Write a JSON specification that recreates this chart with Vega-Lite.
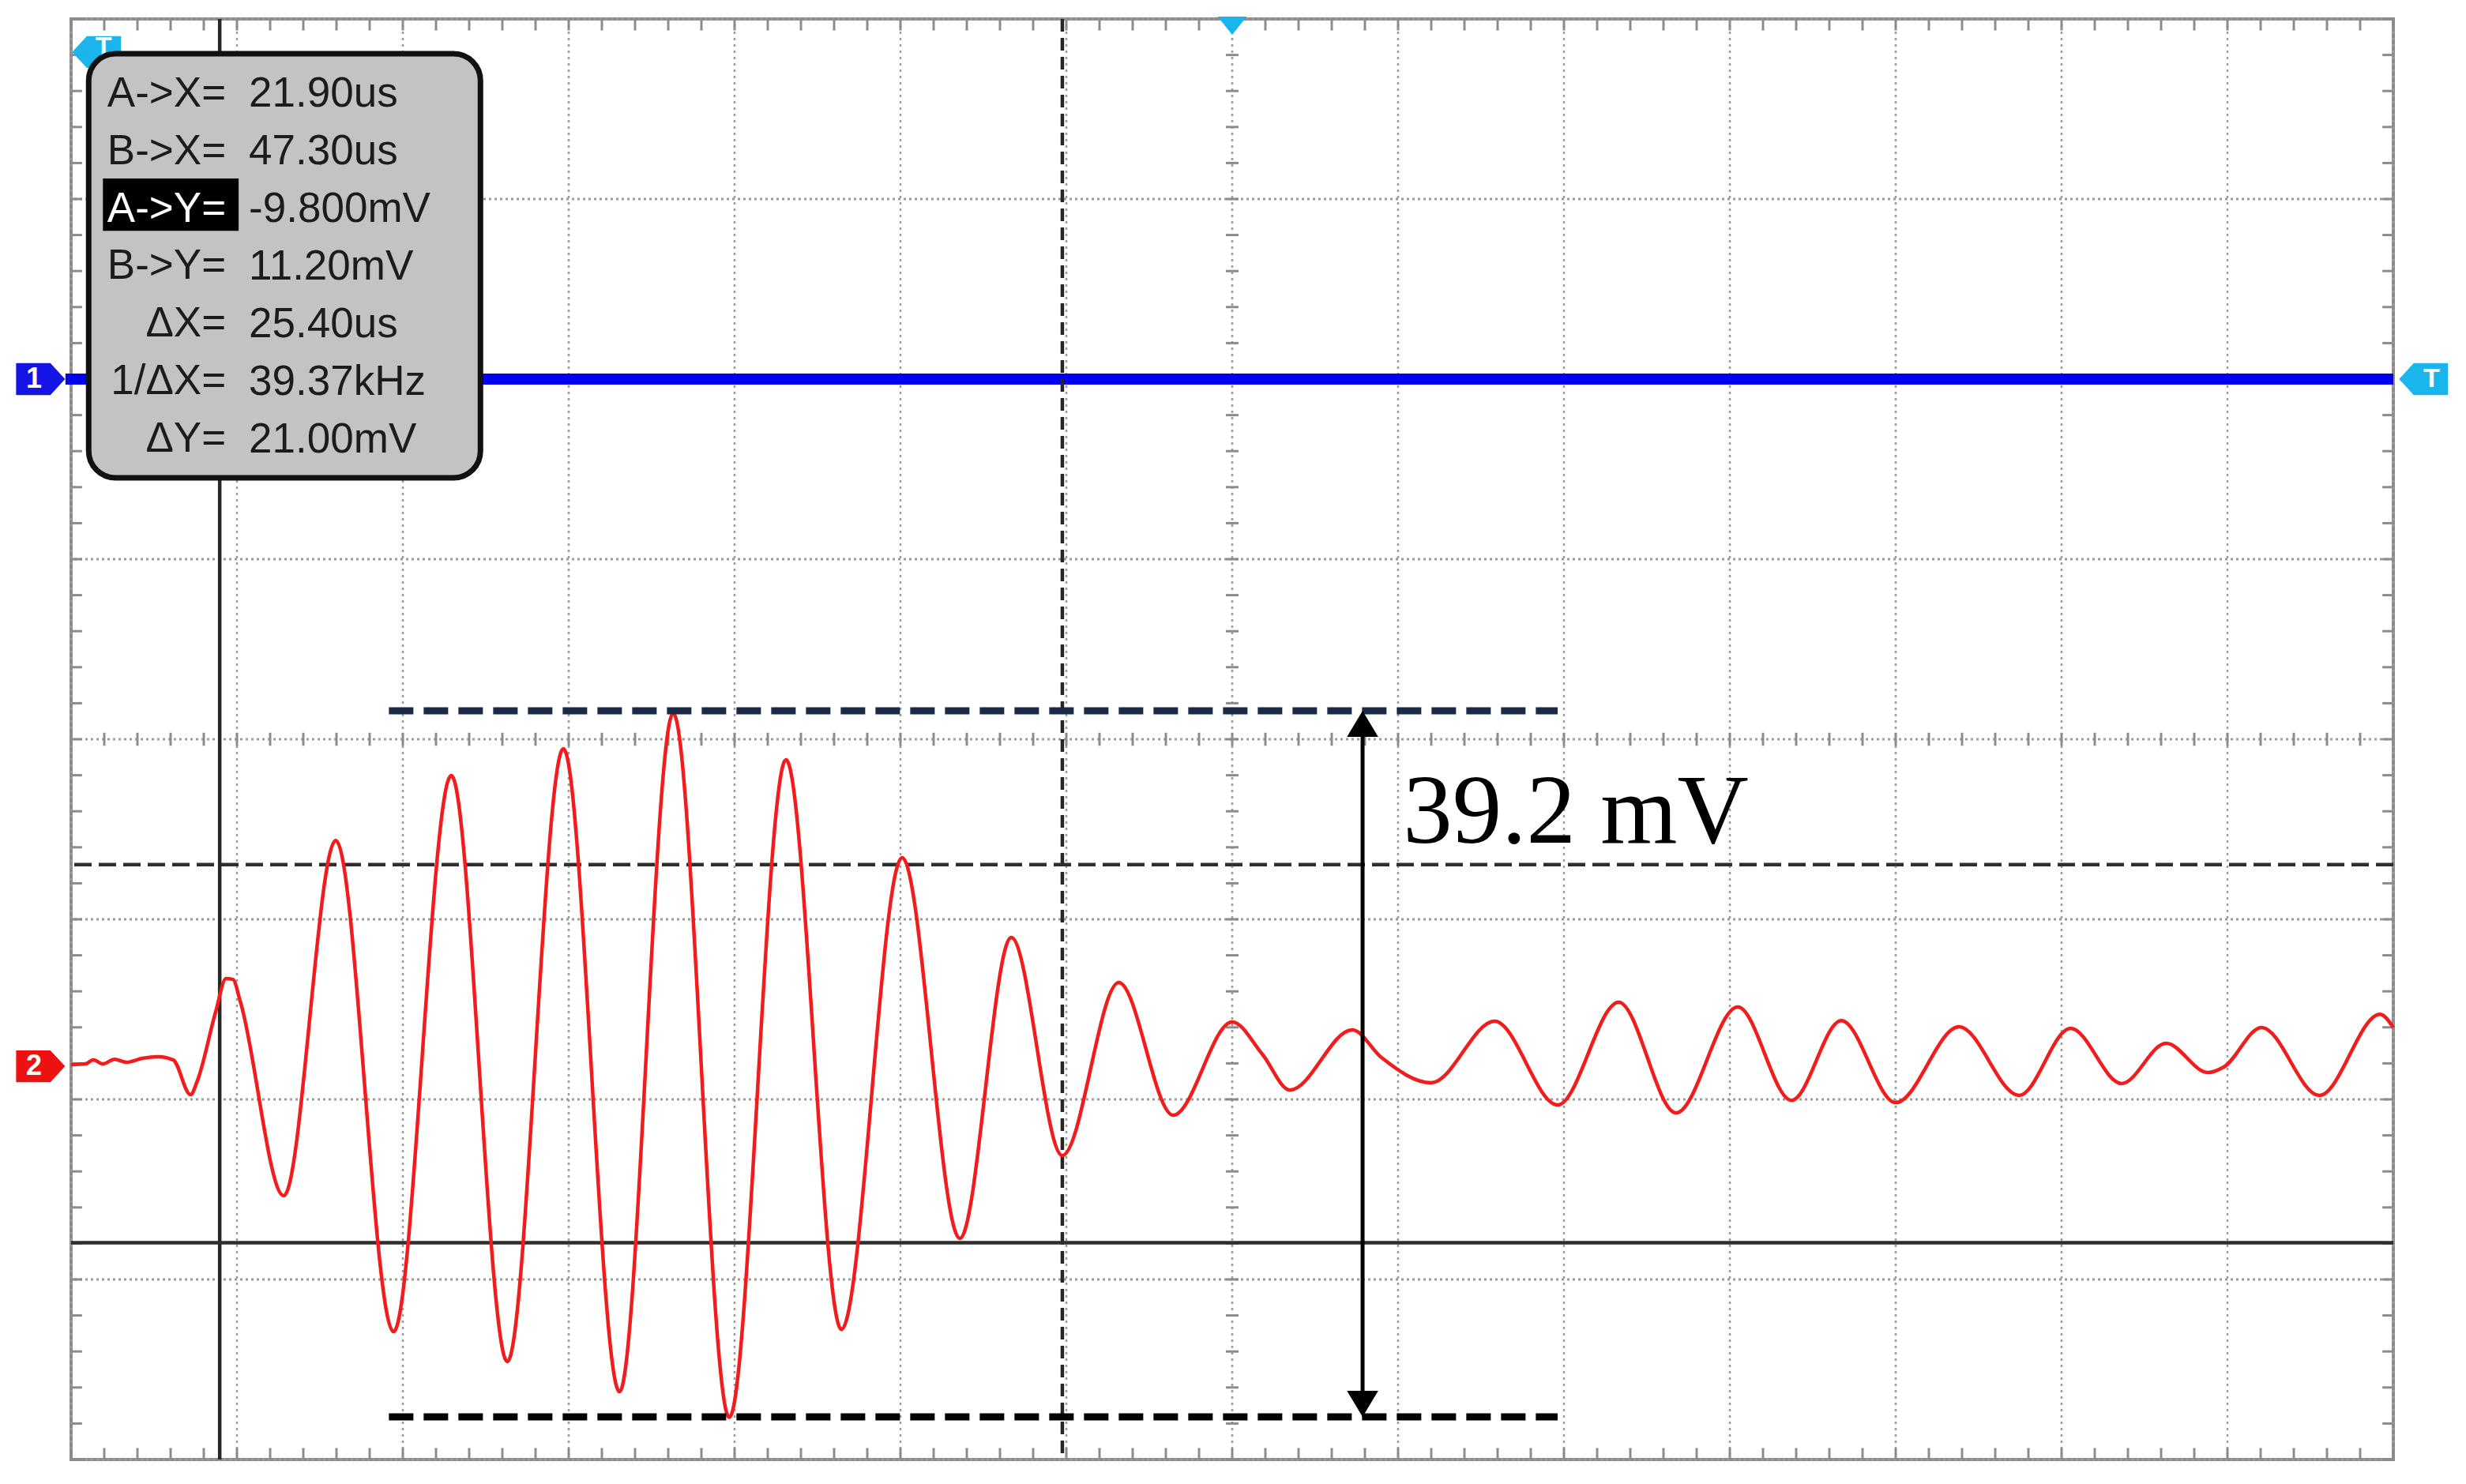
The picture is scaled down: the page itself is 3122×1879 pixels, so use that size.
{
  "$schema": "https://vega.github.io/schema/vega-lite/v6.json",
  "width": 2940,
  "height": 1824,
  "autosize": {"type": "none"},
  "padding": {"left": 90, "top": 24, "right": 92, "bottom": 31},
  "background": "#ffffff",
  "config": {"view": {"stroke": "#8c8c8c", "strokeWidth": 4}},
  "resolve": {"scale": {"color": "independent", "shape": "independent", "strokeDash": "independent"}},
  "datasets": {
    "grid_t": [{"t":17.42},{"t":22.42},{"t":27.42},{"t":32.42},{"t":37.42},{"t":42.42},{"t":47.42},{"t":52.42},{"t":57.42},{"t":62.42},{"t":67.42},{"t":72.42},{"t":77.42},{"t":82.42},{"t":87.42}],
    "grid_v": [{"v":-21.84},{"v":-11.84},{"v":-1.84},{"v":8.16},{"v":18.16},{"v":28.16},{"v":38.16},{"v":48.16},{"v":58.16}],
    "minor_t": [{"t":17.42},{"t":18.42},{"t":19.42},{"t":20.42},{"t":21.42},{"t":22.42},{"t":23.42},{"t":24.42},{"t":25.42},{"t":26.42},{"t":27.42},{"t":28.42},{"t":29.42},{"t":30.42},{"t":31.42},{"t":32.42},{"t":33.42},{"t":34.42},{"t":35.42},{"t":36.42},{"t":37.42},{"t":38.42},{"t":39.42},{"t":40.42},{"t":41.42},{"t":42.42},{"t":43.42},{"t":44.42},{"t":45.42},{"t":46.42},{"t":47.42},{"t":48.42},{"t":49.42},{"t":50.42},{"t":51.42},{"t":52.42},{"t":53.42},{"t":54.42},{"t":55.42},{"t":56.42},{"t":57.42},{"t":58.42},{"t":59.42},{"t":60.42},{"t":61.42},{"t":62.42},{"t":63.42},{"t":64.42},{"t":65.42},{"t":66.42},{"t":67.42},{"t":68.42},{"t":69.42},{"t":70.42},{"t":71.42},{"t":72.42},{"t":73.42},{"t":74.42},{"t":75.42},{"t":76.42},{"t":77.42},{"t":78.42},{"t":79.42},{"t":80.42},{"t":81.42},{"t":82.42},{"t":83.42},{"t":84.42},{"t":85.42},{"t":86.42},{"t":87.42}],
    "minor_v": [{"v":-21.84},{"v":-19.84},{"v":-17.84},{"v":-15.84},{"v":-13.84},{"v":-11.84},{"v":-9.84},{"v":-7.84},{"v":-5.84},{"v":-3.84},{"v":-1.84},{"v":0.16},{"v":2.16},{"v":4.16},{"v":6.16},{"v":8.16},{"v":10.16},{"v":12.16},{"v":14.16},{"v":16.16},{"v":18.16},{"v":20.16},{"v":22.16},{"v":24.16},{"v":26.16},{"v":28.16},{"v":30.16},{"v":32.16},{"v":34.16},{"v":36.16},{"v":38.16},{"v":40.16},{"v":42.16},{"v":44.16},{"v":46.16},{"v":48.16},{"v":50.16},{"v":52.16},{"v":54.16},{"v":56.16},{"v":58.16}],
    "ch1": [{"t":17.25,"v":38.16},{"t":87.42,"v":38.16}],
    "cursors": [{"cursor":"A","t":21.9,"v":-9.8},{"cursor":"B","t":47.3,"v":11.2}],
    "peak": [{"level":"max","v":19.74},{"level":"min","v":-19.47}],
    "channels": [{"ch":"1","v":38.16},{"ch":"2","v":0}],
    "wave": [{"t":17.42,"v":0.09},{"t":17.85,"v":0.13},{"t":18.09,"v":0.35},{"t":18.38,"v":0.13},{"t":18.73,"v":0.39},{"t":19.09,"v":0.22},{"t":19.57,"v":0.44},{"t":20.04,"v":0.53},{"t":20.5,"v":0.35},{"t":21.02,"v":-1.58},{"t":21.23,"v":-0.79},{"t":21.78,"v":3.03},{"t":22.09,"v":4.87},{"t":22.3,"v":4.82},{"t":22.52,"v":3.6},{"t":23.83,"v":-7.19},{"t":25.4,"v":12.54},{"t":27.14,"v":-14.74},{"t":28.88,"v":16.14},{"t":30.57,"v":-16.4},{"t":32.26,"v":17.63},{"t":33.95,"v":-18.07},{"t":35.57,"v":19.6},{"t":37.26,"v":-19.5},{"t":38.97,"v":17.02},{"t":40.64,"v":-14.61},{"t":42.47,"v":11.58},{"t":44.21,"v":-9.56},{"t":45.76,"v":7.15},{"t":47.3,"v":-4.96},{"t":49.0,"v":4.65},{"t":50.64,"v":-2.72},{"t":52.42,"v":2.46},{"t":53.33,"v":0.66},{"t":54.16,"v":-1.32},{"t":56.04,"v":2.02},{"t":56.92,"v":0.48},{"t":58.42,"v":-0.92},{"t":60.33,"v":2.5},{"t":62.23,"v":-2.15},{"t":64.07,"v":3.55},{"t":65.8,"v":-2.59},{"t":67.66,"v":3.29},{"t":69.28,"v":-1.89},{"t":70.78,"v":2.54},{"t":72.42,"v":-2.02},{"t":74.33,"v":2.19},{"t":76.14,"v":-1.62},{"t":77.69,"v":2.11},{"t":79.23,"v":-0.96},{"t":80.57,"v":1.27},{"t":81.83,"v":-0.35},{"t":82.31,"v":-0.04},{"t":83.45,"v":2.15},{"t":85.19,"v":-1.62},{"t":87.02,"v":2.89},{"t":87.42,"v":2.15}]
  },
  "layer": [
    {"data": {"name": "grid_t"}, "mark": {"type": "rule", "color": "#9c9c9c", "strokeWidth": 2.5, "strokeDash": [3, 5]},
     "encoding": {"x": {"field": "t", "type": "quantitative", "scale": {"domain": [17.42, 87.42], "nice": false, "zero": false}, "axis": null}}},
    {"data": {"name": "grid_v"}, "mark": {"type": "rule", "color": "#9c9c9c", "strokeWidth": 3, "strokeDash": [3, 4]},
     "encoding": {"y": {"field": "v", "type": "quantitative", "scale": {"domain": [-21.84, 58.16], "nice": false, "zero": false}, "axis": null}}},
    {"data": {"name": "minor_t"}, "mark": {"type": "rule", "color": "#8c8c8c", "strokeWidth": 3},
     "encoding": {"x": {"field": "t", "type": "quantitative", "axis": null}, "y": {"datum": -21.84, "axis": null}, "y2": {"datum": -21.2}}},
    {"data": {"name": "minor_t"}, "mark": {"type": "rule", "color": "#8c8c8c", "strokeWidth": 3},
     "encoding": {"x": {"field": "t", "type": "quantitative", "axis": null}, "y": {"datum": 58.16, "axis": null}, "y2": {"datum": 57.52}}},
    {"data": {"name": "minor_t"}, "mark": {"type": "rule", "color": "#8c8c8c", "strokeWidth": 3},
     "encoding": {"x": {"field": "t", "type": "quantitative", "axis": null}, "y": {"datum": 17.8, "axis": null}, "y2": {"datum": 18.52}}},
    {"data": {"name": "minor_v"}, "mark": {"type": "rule", "color": "#8c8c8c", "strokeWidth": 3},
     "encoding": {"y": {"field": "v", "type": "quantitative", "axis": null}, "x": {"datum": 17.42, "axis": null}, "x2": {"datum": 17.75}}},
    {"data": {"name": "minor_v"}, "mark": {"type": "rule", "color": "#8c8c8c", "strokeWidth": 3},
     "encoding": {"y": {"field": "v", "type": "quantitative", "axis": null}, "x": {"datum": 87.42, "axis": null}, "x2": {"datum": 87.09}}},
    {"data": {"name": "minor_v"}, "mark": {"type": "rule", "color": "#8c8c8c", "strokeWidth": 3},
     "encoding": {"y": {"field": "v", "type": "quantitative", "axis": null}, "x": {"datum": 52.23, "axis": null}, "x2": {"datum": 52.61}}},
    {"data": {"name": "ch1"}, "mark": {"type": "line", "color": "#0000ee", "strokeWidth": 14, "strokeCap": "butt"},
     "encoding": {"x": {"field": "t", "type": "quantitative", "axis": null}, "y": {"field": "v", "type": "quantitative", "axis": null}}},
    {"data": {"name": "cursors"}, "mark": {"type": "rule", "color": "#262626", "strokeWidth": 4.5},
     "encoding": {"x": {"field": "t", "type": "quantitative", "axis": null},
                  "strokeDash": {"field": "cursor", "type": "nominal", "scale": {"domain": ["A", "B"], "range": [[1, 0], [16, 8]]}, "legend": null}}},
    {"data": {"name": "cursors"}, "mark": {"type": "rule", "color": "#2e2e2e", "strokeWidth": 4.5},
     "encoding": {"y": {"field": "v", "type": "quantitative", "axis": null},
                  "strokeDash": {"field": "cursor", "type": "nominal", "scale": {"domain": ["A", "B"], "range": [[1, 0], [22, 9]]}, "legend": null}}},
    {"data": {"name": "wave"}, "mark": {"type": "line", "color": "#f21c1c", "strokeWidth": 4.5, "interpolate": "monotone"},
     "encoding": {"x": {"field": "t", "type": "quantitative", "axis": null}, "y": {"field": "v", "type": "quantitative", "axis": null}}},
    {"data": {"name": "peak"}, "mark": {"type": "rule", "strokeWidth": 9, "strokeDash": [31, 13]},
     "encoding": {"x": {"datum": 27.0, "axis": null}, "x2": {"datum": 62.23}, "y": {"field": "v", "type": "quantitative", "axis": null},
                  "color": {"field": "level", "type": "nominal", "scale": {"domain": ["max", "min"], "range": ["#1d2a45", "#000000"]}, "legend": null}}},
    {"data": {"values": [{}]}, "mark": {"type": "rule", "color": "#000000", "strokeWidth": 5},
     "encoding": {"x": {"datum": 56.35, "axis": null}, "y": {"datum": -19.0, "axis": null}, "y2": {"datum": 19.3}}},
    {"data": {"name": "peak"}, "mark": {"type": "point", "filled": true, "size": 4356, "color": "#000000", "opacity": 1, "strokeWidth": 0},
     "encoding": {"x": {"datum": 56.35, "axis": null}, "y": {"field": "v", "type": "quantitative", "axis": null},
                  "shape": {"field": "level", "type": "nominal", "scale": {"domain": ["max", "min"], "range": ["M0,0L0.6,1L-0.6,1Z", "M0,0L0.6,-1L-0.6,-1Z"]}, "legend": null}}},
    {"data": {"values": [{}]}, "mark": {"type": "text", "text": "39.2 mV", "font": "Liberation Serif", "fontSize": 125, "align": "left", "baseline": "alphabetic", "color": "#000000"},
     "encoding": {"x": {"datum": 57.57, "axis": null}, "y": {"datum": 12.41, "axis": null}}},
    {"data": {"name": "channels"}, "mark": {"type": "point", "filled": true, "size": 3844, "opacity": 1, "strokeWidth": 0, "shape": "M-1,-0.65L0.4,-0.65L1,0L0.4,0.65L-1,0.65Z"},
     "encoding": {"x": {"datum": 16.5, "axis": null}, "y": {"field": "v", "type": "quantitative", "axis": null},
                  "color": {"field": "ch", "type": "nominal", "scale": {"domain": ["1", "2"], "range": ["#1414e6", "#ee1111"]}, "legend": null}}},
    {"data": {"name": "channels"}, "mark": {"type": "text", "font": "Liberation Sans", "fontSize": 36, "fontWeight": "bold", "color": "#ffffff", "align": "center", "baseline": "middle"},
     "encoding": {"x": {"datum": 16.3, "axis": null}, "y": {"field": "v", "type": "quantitative", "axis": null}, "text": {"field": "ch"}}},
    {"data": {"values": [{}]}, "mark": {"type": "point", "filled": true, "size": 3844, "opacity": 1, "strokeWidth": 0, "color": "#19b5ec", "shape": "M1,-0.65L-0.4,-0.65L-1,0L-0.4,0.65L1,0.65Z"},
     "encoding": {"x": {"datum": 88.33, "axis": null}, "y": {"datum": 38.16, "axis": null}}},
    {"data": {"values": [{}]}, "mark": {"type": "text", "text": "T", "font": "Liberation Sans", "fontSize": 34, "fontWeight": "bold", "color": "#ffffff", "align": "center", "baseline": "middle"},
     "encoding": {"x": {"datum": 88.57, "axis": null}, "y": {"datum": 38.16, "axis": null}}},
    {"data": {"values": [{}]}, "mark": {"type": "point", "filled": true, "size": 3844, "opacity": 1, "strokeWidth": 0, "color": "#19b5ec", "shape": "M1,-0.65L-0.4,-0.65L-1,0L-0.4,0.65L1,0.65Z"},
     "encoding": {"x": {"datum": 18.19, "axis": null}, "y": {"datum": 56.32, "axis": null}}},
    {"data": {"values": [{}]}, "mark": {"type": "text", "text": "T", "font": "Liberation Sans", "fontSize": 34, "fontWeight": "bold", "color": "#ffffff", "align": "center", "baseline": "middle"},
     "encoding": {"x": {"datum": 18.4, "axis": null}, "y": {"datum": 56.6, "axis": null}}},
    {"data": {"values": [{}]}, "mark": {"type": "point", "filled": true, "size": 2116, "opacity": 1, "strokeWidth": 0, "color": "#19b5ec", "shape": "M-0.8,-1L0.8,-1L0,0Z"},
     "encoding": {"x": {"datum": 52.42, "axis": null}, "y": {"datum": 57.28, "axis": null}}},
    {"data": {"values": [{}]}, "mark": {"type": "rect", "fill": "#c3c3c3", "stroke": "#111111", "strokeWidth": 7, "cornerRadius": 34},
     "encoding": {"x": {"datum": 17.95, "axis": null}, "x2": {"datum": 29.76}, "y": {"datum": 56.23, "axis": null}, "y2": {"datum": 32.68}}},
    {"data": {"values": [{}]}, "mark": {"type": "rect", "fill": "#000000"},
     "encoding": {"x": {"datum": 18.38, "axis": null}, "x2": {"datum": 22.47}, "y": {"datum": 49.3, "axis": null}, "y2": {"datum": 46.4}}},
    {"data": {"values": [{}]}, "mark": {"type": "text", "text": ["A->X=", "B->X="], "lineHeight": 73, "font": "Liberation Sans", "fontSize": 53, "color": "#1c1c1c", "align": "right", "baseline": "alphabetic"},
     "encoding": {"x": {"datum": 22.09, "axis": null}, "y": {"datum": 53.31, "axis": null}}},
    {"data": {"values": [{}]}, "mark": {"type": "text", "text": ["B->Y=", "ΔX=", "1/ΔX=", "ΔY="], "lineHeight": 73, "font": "Liberation Sans", "fontSize": 53, "color": "#1c1c1c", "align": "right", "baseline": "alphabetic"},
     "encoding": {"x": {"datum": 22.09, "axis": null}, "y": {"datum": 43.71, "axis": null}}},
    {"data": {"values": [{}]}, "mark": {"type": "text", "text": ["21.90us", "47.30us", "-9.800mV", "11.20mV", "25.40us", "39.37kHz", "21.00mV"], "lineHeight": 73, "font": "Liberation Sans", "fontSize": 53, "color": "#1c1c1c", "align": "left", "baseline": "alphabetic"},
     "encoding": {"x": {"datum": 22.78, "axis": null}, "y": {"datum": 53.31, "axis": null}}},
    {"data": {"values": [{}]}, "mark": {"type": "text", "text": "A->Y=", "font": "Liberation Sans", "fontSize": 53, "color": "#ffffff", "align": "right", "baseline": "alphabetic"},
     "encoding": {"x": {"datum": 22.09, "axis": null}, "y": {"datum": 46.91, "axis": null}}}
  ]
}
